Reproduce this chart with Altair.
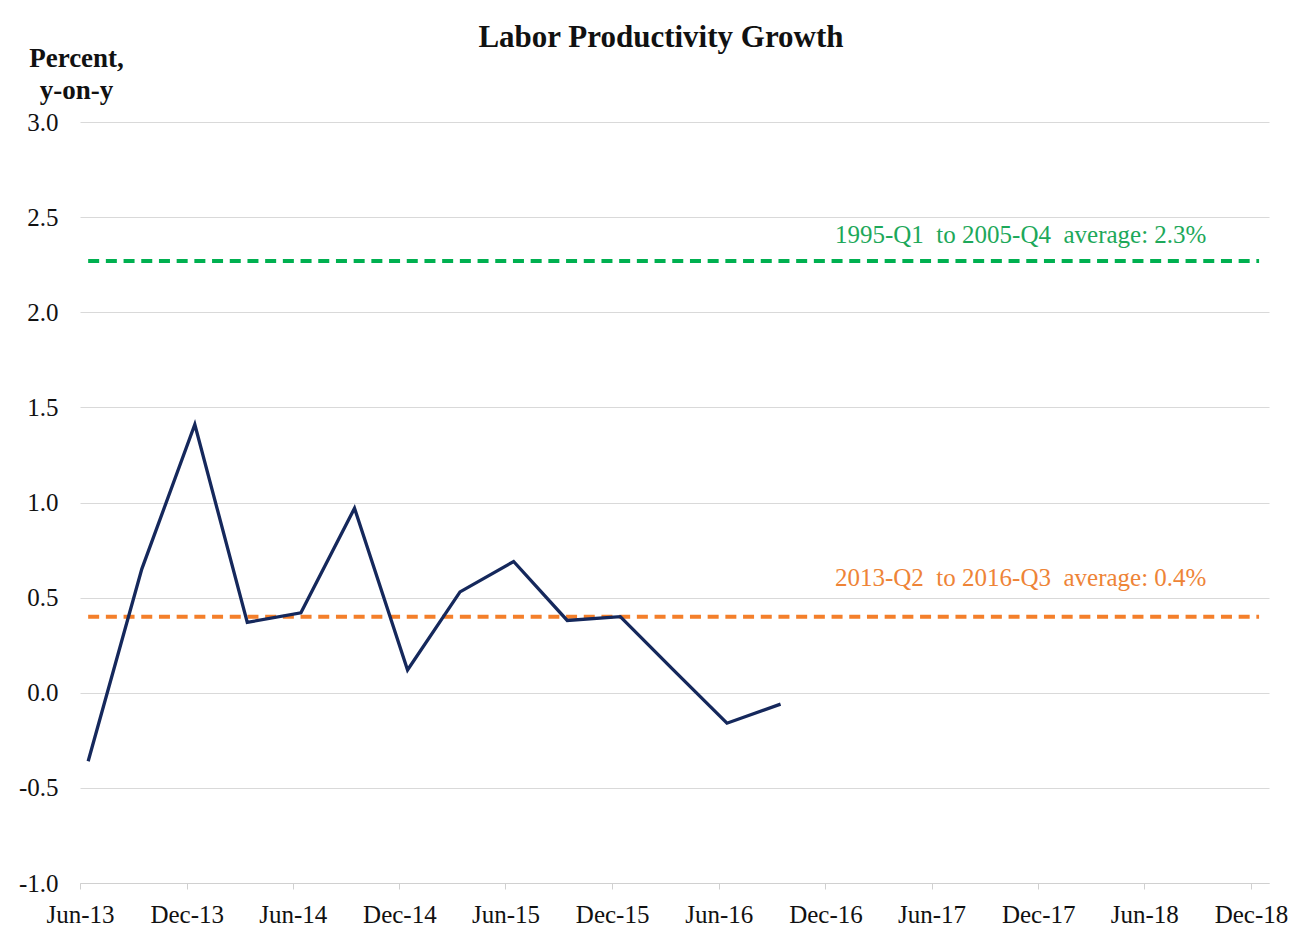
import altair as alt
import pandas as pd

# Quarterly labor productivity growth, percent y-on-y (2013-Q2 .. 2016-Q3)
dates = ["2013-06-15", "2013-09-15", "2013-12-15", "2014-03-15", "2014-06-15",
         "2014-09-15", "2014-12-15", "2015-03-15", "2015-06-15", "2015-09-15",
         "2015-12-15", "2016-03-15", "2016-06-15", "2016-09-15"]
growth = [-0.36, 0.65, 1.41, 0.37, 0.42, 0.97, 0.12, 0.53, 0.69, 0.38,
          0.40, 0.12, -0.16, -0.06]

# Average reference lines
avg_dates = ["2013-06-15", "2018-12-15"]
avg_long = 2.27   # 1995-Q1 to 2005-Q4 average
avg_recent = 0.40  # 2013-Q2 to 2016-Q3 average

label_texts = ["1995-Q1\u00a0 to 2005-Q4\u00a0 average: 2.3%",
               "2013-Q2\u00a0 to 2016-Q3\u00a0 average: 0.4%"]
label_dates = ["2017-11-01", "2017-11-01"]
label_y = [2.365, 0.56]
label_series = ["long", "recent"]

title_text = ["Labor Productivity Growth"]

y_ticks = [-1.0, -0.5, 0.0, 0.5, 1.0, 1.5, 2.0, 2.5, 3.0]
x_ticks = ["2013-06-01", "2013-12-01", "2014-06-01", "2014-12-01", "2015-06-01",
           "2015-12-01", "2016-06-01", "2016-12-01", "2017-06-01", "2017-12-01",
           "2018-06-01", "2018-12-01"]

FONT = "Liberation Serif"
NAVY = "#15285C"
GREEN = "#00B050"
ORANGE = "#F47F2A"

df = pd.DataFrame({"date": dates, "value": growth})
df_long = pd.DataFrame({"date": avg_dates, "value": [avg_long] * 2})
df_recent = pd.DataFrame({"date": avg_dates, "value": [avg_recent] * 2})
df_lab = pd.DataFrame({"date": label_dates, "value": label_y,
                       "text": label_texts, "series": label_series})
df_title = pd.DataFrame({"text": title_text})

x_scale = alt.Scale(domain=[alt.DateTime(year=2013, month=6, date=1),
                            alt.DateTime(year=2019, month=1, date=1)])
y_scale = alt.Scale(domain=[-1, 3], nice=False, zero=False)

x_enc = alt.X("date:T", scale=x_scale, axis=alt.Axis(
    values=[alt.DateTime(year=int(d[:4]), month=int(d[5:7]), date=1) for d in x_ticks],
    format="%b-%y", title=None, grid=False, labelFlush=False,
    domainColor="#d0d0d0", tickColor="#d0d0d0", tickSize=6,
    labelFont=FONT, labelFontSize=25, labelColor="#111111", labelPadding=13,
))
y_enc = alt.Y("value:Q", scale=y_scale, axis=alt.Axis(
    values=y_ticks, format=".1f", labelExpr="replace(datum.label, '\u2212', '-')",
    domain=False, ticks=False,
    grid=True, gridColor="#d9d9d9", gridWidth=1,
    labelFont=FONT, labelFontSize=25, labelColor="#111111", labelPadding=22,
    title=["Percent,", "y-on-y"], titleAngle=0, titleAlign="center",
    titleBaseline="alphabetic", titleX=-4, titleY=-56, titleLineHeight=32,
    titleFont=FONT, titleFontSize=27, titleFontWeight="bold", titleColor="#111111",
))

line = alt.Chart(df).mark_line(color=NAVY, strokeWidth=3.3, strokeJoin="miter").encode(
    x=x_enc, y=y_enc)

green_line = alt.Chart(df_long).mark_line(
    color=GREEN, strokeWidth=4, strokeDash=[11, 6.7]).encode(
    x=alt.X("date:T", scale=x_scale), y=alt.Y("value:Q", scale=y_scale))

orange_line = alt.Chart(df_recent).mark_line(
    color=ORANGE, strokeWidth=4, strokeDash=[11, 6.7]).encode(
    x=alt.X("date:T", scale=x_scale), y=alt.Y("value:Q", scale=y_scale))

labels = alt.Chart(df_lab).mark_text(
    font=FONT, fontSize=25, align="center", baseline="alphabetic").encode(
    x=alt.X("date:T", scale=x_scale),
    y=alt.Y("value:Q", scale=y_scale),
    text="text:N",
    color=alt.Color("series:N", scale=alt.Scale(domain=["long", "recent"],
                                               range=["#1DA85A", "#EE8437"]),
                    legend=None),
)

title = alt.Chart(df_title).mark_text(
    font=FONT, fontSize=31, fontWeight="bold", color="#111111",
    align="center", baseline="alphabetic").encode(
    x=alt.value(581), y=alt.value(-75), text="text:N")

chart = alt.layer(green_line, orange_line, line, labels, title).properties(
    width=1189, height=761,
    autosize=alt.AutoSizeParams(type="none"),
    padding={"left": 72, "top": 114, "right": 30, "bottom": 60},
).configure(background="white", view=alt.ViewConfig(strokeWidth=0, stroke="transparent"))

chart.save("out.html", embed_options={"renderer": "svg", "actions": False})
